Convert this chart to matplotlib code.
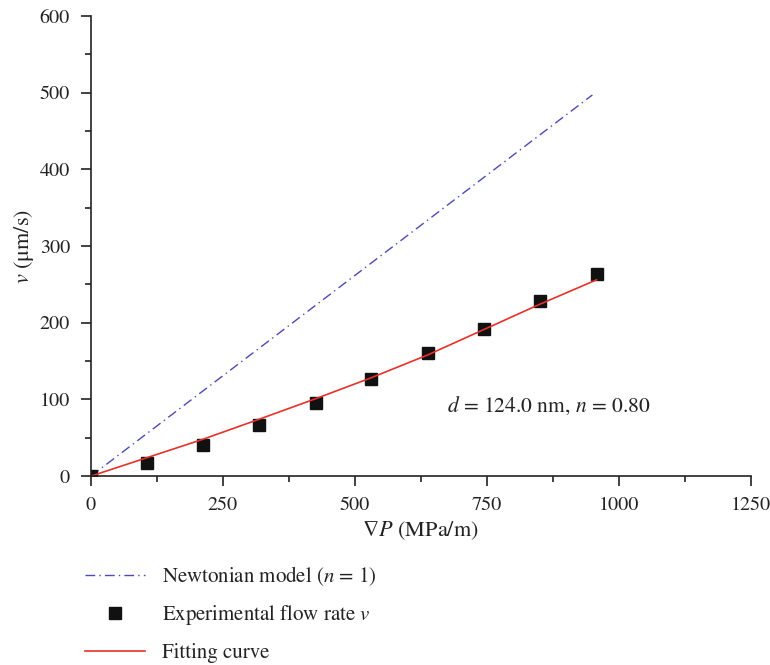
import matplotlib
matplotlib.use("Agg")
import matplotlib.pyplot as plt
from matplotlib.ticker import MultipleLocator

plt.rcParams['font.family'] = 'STIXGeneral'
plt.rcParams['mathtext.fontset'] = 'stix'

# pressure gradient (MPa/m) and measured flow rate (um/s)
grad_p = [0, 106, 212, 318, 426, 530, 638, 744, 850, 958]
flow_exp = [0, 17, 40, 67, 96, 127, 160, 192, 228, 264]

# fitted curve (n = 0.80)
fit_p = [0, 106, 212, 318, 426, 530, 638, 744, 850, 958]
fit_v = [0, 24, 48, 74, 101, 128, 158, 191, 224, 256]

# Newtonian model line (n = 1)
newton_p = [0, 950]
newton_v = [0, 497]


def main():
    fig = plt.figure(figsize=(7.7, 6.65), dpi=100)
    ax = fig.add_axes([0.118, 0.284, 0.857, 0.692])

    ax.plot(newton_p, newton_v, color='#4a4ab8', lw=1.0, ls=(0, (7, 3, 1, 3)),
            label='Newtonian model ($n$ = 1)')
    ax.plot(grad_p, flow_exp, ls='none', marker='s', ms=9, color='#111111',
            label='Experimental flow rate $v$')
    ax.plot(fit_p, fit_v, color='#e8302a', lw=1.2, label='Fitting curve')

    ax.text(868, 91, '$d$ = 124.0 nm, $n$ = 0.80', ha='center', va='center',
            fontsize=15.5, color='#222222')

    ax.set_xlim(0, 1250)
    ax.set_ylim(0, 600)
    ax.xaxis.set_major_locator(MultipleLocator(250))
    ax.xaxis.set_minor_locator(MultipleLocator(125))
    ax.yaxis.set_major_locator(MultipleLocator(100))
    ax.yaxis.set_minor_locator(MultipleLocator(50))
    ax.tick_params(which='major', direction='out', length=7, width=1.2,
                   labelsize=14.5, colors='#222222', pad=8)
    ax.tick_params(which='minor', direction='out', length=4, width=1.2,
                   colors='#222222')
    for side in ['top', 'right']:
        ax.spines[side].set_visible(False)
    for side in ['left', 'bottom']:
        ax.spines[side].set_linewidth(1.2)
        ax.spines[side].set_color('#222222')

    ax.set_xlabel(r'$\nabla P$ (MPa/m)', fontsize=16, color='#222222',
                  labelpad=4)
    ax.set_ylabel(r'$v$ ($\mathrm{\mu}$m/s)', fontsize=16, color='#222222',
                  labelpad=3)

    fig.legend(loc='upper left', bbox_to_anchor=(0.086, 0.18),
               frameon=False, fontsize=15, handlelength=2.9,
               labelspacing=0.75, handletextpad=0.8, labelcolor='#222222')

    fig.savefig('out.png')


if __name__ == "__main__":
    main()
